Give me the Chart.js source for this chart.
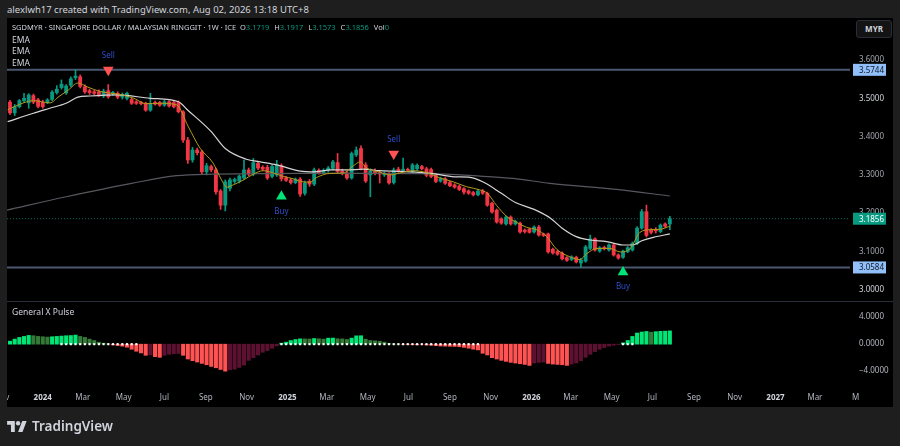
<!DOCTYPE html>
<html lang="en">
<head>
<meta charset="UTF-8">
<title>SGDMYR 1W</title>
<script src="https://cdn.jsdelivr.net/npm/chart.js"></script>
<style>
  * { box-sizing: border-box; }
  body {
    margin: 0; width: 900px; height: 446px; overflow: hidden; position: relative;
    background: #1e1e1e; color: #d1d4dc;
    font-family: "Noto Sans", sans-serif;
  }
  .abs { position: absolute; white-space: nowrap; }
  #header { left: 7px; top: 3px; font-size: 9.5px; line-height: 14px; }
  #frame { left: 7px; top: 18px; width: 886px; height: 389px; background: #000; }
  #mainChart { position: absolute; left: 7px; top: 18px; }
  #sep { left: 7px; top: 301px; width: 886px; height: 1px; background: #2a2e39; }
  #pulseChart { position: absolute; left: 7px; top: 302px; }
  .legend { left: 12px; font-size: 8.5px; line-height: 11px; }
  #sym { font-size: 7.5px; }
  .val { color: #089981; margin-right: 3px; }
  #myr {
    left: 856px; top: 20px; width: 36px; height: 18px;
    border: 1px solid #2a2e39; border-radius: 3px; background: #141414;
    font-size: 8px; font-weight: bold; text-align: center; line-height: 16px;
  }
  #logo { left: 7px; top: 418px; display: flex; align-items: center; gap: 5px;
          font-size: 13.5px; font-weight: 600; color: #d1d4dc; line-height: 16px; }
</style>
</head>
<body>
  <div class="abs" id="header">alexlwh17 created with TradingView.com, Aug 02, 2026 13:18 UTC+8</div>
  <div class="abs" id="frame"></div>
  <canvas id="mainChart" width="886" height="283"></canvas>
  <div class="abs" id="sep"></div>
  <canvas id="pulseChart" width="886" height="105"></canvas>

  <div class="abs legend" id="sym" style="top:22px">SGDMYR · SINGAPORE DOLLAR / MALAYSIAN RINGGIT · 1W · ICE&nbsp; O<span class="val">3.1719</span> H<span class="val">3.1917</span> L<span class="val">3.1573</span> C<span class="val">3.1856</span> Vol<span class="val">0</span></div>
  <div class="abs legend" style="top:33.5px">EMA</div>
  <div class="abs legend" style="top:45px">EMA</div>
  <div class="abs legend" style="top:56.5px">EMA</div>
  <div class="abs legend" style="top:306px">General X Pulse</div>
  <div class="abs" id="myr">MYR</div>

  <div class="abs" id="logo">
    <svg width="20" height="11" viewBox="0 0 36 20">
      <path fill="#d1d4dc" d="M14 20H7V7H0V0h14z M28 20h-8L27.5 0h8z"/>
      <circle fill="#d1d4dc" cx="20" cy="4" r="4"/>
    </svg>
    <span>TradingView</span>
  </div>

<script>
// weekly candles; week 0 = 2024-01-01, first candle is week -7 (Nov 13 2023)
const firstWeek = -7;

const openP = [
  3.490,3.462,3.478,3.494,3.488,3.507,3.496,3.490,3.489,3.497,
  3.515,3.528,3.514,3.534,3.554,3.556,3.530,3.520,3.517,3.517,
  3.506,3.520,3.512,3.513,3.503,3.500,3.497,3.491,3.489,3.487,
  3.469,3.489,3.489,3.482,3.491,3.489,3.489,3.465,3.391,3.339,
  3.365,3.360,3.308,3.322,3.313,3.258,3.221,3.265,3.283,3.284,
  3.292,3.313,3.302,3.330,3.320,3.320,3.296,3.300,3.324,3.292,
  3.287,3.280,3.289,3.252,3.283,3.276,3.312,3.306,3.311,3.317,
  3.332,3.310,3.305,3.292,3.352,3.369,3.326,3.300,3.309,3.306,
  3.300,3.303,3.280,3.315,3.311,3.314,3.308,3.316,3.322,3.316,
  3.314,3.300,3.284,3.290,3.280,3.274,3.270,3.264,3.258,3.254,
  3.248,3.258,3.252,3.226,3.208,3.185,3.172,3.190,3.172,3.174,
  3.156,3.158,3.151,3.164,3.146,3.146,3.106,3.100,3.096,3.084,
  3.079,3.085,3.070,3.075,3.108,3.133,3.101,3.111,3.104,3.117,
  3.091,3.085,3.100,3.104,3.121,3.161,3.204,3.156,3.158,3.152,
  3.172,3.1719
];
const highP = [
  3.495,3.484,3.497,3.513,3.512,3.511,3.500,3.495,3.499,3.520,
  3.533,3.548,3.536,3.556,3.5744,3.561,3.535,3.524,3.521,3.522,
  3.524,3.536,3.518,3.517,3.514,3.516,3.501,3.494,3.492,3.490,
  3.513,3.493,3.492,3.495,3.494,3.492,3.493,3.468,3.398,3.372,
  3.370,3.364,3.330,3.326,3.318,3.262,3.287,3.292,3.292,3.300,
  3.339,3.318,3.343,3.336,3.324,3.325,3.326,3.338,3.329,3.296,
  3.291,3.292,3.293,3.284,3.288,3.318,3.316,3.316,3.322,3.338,
  3.356,3.315,3.310,3.360,3.373,3.376,3.332,3.316,3.316,3.312,
  3.308,3.306,3.318,3.320,3.344,3.318,3.330,3.329,3.325,3.320,
  3.318,3.303,3.294,3.293,3.284,3.277,3.273,3.267,3.261,3.257,
  3.262,3.262,3.255,3.229,3.211,3.188,3.193,3.193,3.182,3.177,
  3.159,3.161,3.167,3.168,3.148,3.148,3.109,3.104,3.099,3.087,
  3.089,3.088,3.082,3.116,3.143,3.136,3.113,3.114,3.120,3.120,
  3.094,3.104,3.113,3.125,3.165,3.210,3.221,3.160,3.162,3.172,
  3.175,3.1917
];
const lowP = [
  3.458,3.455,3.475,3.490,3.474,3.486,3.475,3.474,3.486,3.494,
  3.511,3.524,3.510,3.530,3.549,3.527,3.513,3.510,3.509,3.505,
  3.502,3.500,3.508,3.499,3.498,3.496,3.484,3.484,3.483,3.466,
  3.466,3.482,3.479,3.479,3.477,3.475,3.462,3.385,3.330,3.333,
  3.352,3.303,3.300,3.308,3.250,3.210,3.206,3.258,3.278,3.279,
  3.288,3.298,3.298,3.314,3.311,3.288,3.292,3.296,3.284,3.283,
  3.276,3.277,3.244,3.247,3.270,3.272,3.302,3.303,3.307,3.313,
  3.305,3.300,3.288,3.289,3.348,3.313,3.280,3.243,3.300,3.279,
  3.296,3.276,3.276,3.307,3.308,3.309,3.305,3.312,3.313,3.295,
  3.293,3.280,3.281,3.275,3.269,3.265,3.259,3.250,3.249,3.245,
  3.245,3.249,3.218,3.200,3.174,3.171,3.169,3.169,3.169,3.148,
  3.148,3.148,3.148,3.140,3.139,3.096,3.093,3.090,3.078,3.074,
  3.076,3.070,3.0584,3.072,3.105,3.101,3.098,3.104,3.101,3.088,
  3.080,3.082,3.097,3.101,3.118,3.158,3.138,3.146,3.148,3.149,
  3.163,3.1573
];
const closeP = [
  3.462,3.478,3.494,3.500,3.509,3.490,3.479,3.478,3.496,3.516,
  3.524,3.537,3.532,3.551,3.558,3.531,3.517,3.515,3.513,3.510,
  3.519,3.504,3.515,3.503,3.510,3.513,3.487,3.487,3.486,3.469,
  3.487,3.485,3.482,3.491,3.480,3.478,3.465,3.391,3.339,3.365,
  3.358,3.308,3.324,3.313,3.256,3.221,3.282,3.287,3.288,3.297,
  3.313,3.302,3.332,3.318,3.315,3.292,3.322,3.326,3.290,3.286,
  3.280,3.289,3.250,3.279,3.276,3.313,3.306,3.312,3.318,3.334,
  3.309,3.304,3.292,3.356,3.365,3.317,3.284,3.310,3.305,3.302,
  3.304,3.279,3.313,3.311,3.315,3.312,3.326,3.325,3.316,3.299,
  3.296,3.283,3.290,3.278,3.272,3.268,3.262,3.255,3.252,3.248,
  3.258,3.252,3.221,3.203,3.177,3.174,3.190,3.172,3.179,3.151,
  3.152,3.150,3.164,3.143,3.142,3.099,3.096,3.093,3.081,3.077,
  3.086,3.073,3.078,3.112,3.133,3.104,3.110,3.107,3.117,3.091,
  3.083,3.101,3.110,3.121,3.161,3.204,3.142,3.150,3.154,3.169,
  3.166,3.1856
];

// General X Pulse histogram, one value per candle
const pulse = [
  0.45,0.75,1.0,1.15,1.3,1.25,1.15,1.1,1.05,1.1,
  1.15,1.2,1.25,1.28,1.35,1.15,1.0,0.75,0.55,0.3,
  0.15,0.05,-0.1,-0.2,-0.3,-0.45,-0.75,-1.05,-1.3,-1.65,
  -1.6,-1.85,-1.95,-1.65,-1.5,-1.42,-1.38,-1.65,-2.2,-2.45,
  -2.65,-2.85,-3.05,-3.3,-3.5,-3.75,-4.0,-3.8,-3.7,-3.45,
  -3.1,-2.4,-2.0,-1.6,-1.2,-0.95,-0.6,-0.25,0.15,0.3,
  0.54,0.69,0.79,0.78,0.77,0.84,0.8,0.75,0.89,0.9,
  0.8,0.78,0.69,0.89,1.23,1.25,0.74,0.54,0.49,0.44,
  0.3,0.1,0.03,0.02,-0.02,-0.03,-0.05,-0.1,-0.06,-0.12,
  -0.16,-0.22,-0.28,-0.3,-0.32,-0.34,-0.38,-0.48,-0.6,-0.75,
  -0.85,-1.35,-1.6,-2.0,-2.2,-2.4,-2.55,-2.7,-2.8,-2.9,
  -3.0,-3.15,-2.8,-2.7,-2.65,-2.85,-2.95,-3.0,-3.05,-3.15,
  -2.95,-2.8,-2.45,-1.95,-1.5,-1.1,-0.75,-0.5,-0.28,-0.15,
  -0.05,0.2,0.55,1.15,1.65,1.8,1.88,1.78,1.85,1.9,
  1.93,1.97
];
// weeks with white squeeze dots on the zero line
const dotFrom = [4, 51, 124];
const dotTo = [20, 93, 126];

// EMA lines (week, price)
const goldW = [-7.5,-5,-2,1.5,3.5,5.5,7.5,9.5,12.2,16.5,19.5,22,25,28.6,31.1,33.6,36.4,38.2,39.3,40.7,
  42.9,45,47.1,49.3,51.4,53.5,55,57.1,58.5,61.4,64.2,66.4,67.8,69.2,72.1,74.2,76.3,79.2,82,84.9,
  87.7,90.6,93.4,95,97,99.1,101.3,103.4,105.5,107.7,109.8,112.7,114.8,116.2,118.4,121.2,123.4,125.5,127.6,129.8,
  131.9,134];
const goldP = [3.470,3.484,3.494,3.488,3.505,3.522,3.540,3.530,3.518,3.510,3.500,3.486,3.487,3.483,3.426,3.370,3.331,3.287,3.268,3.274,
  3.287,3.302,3.311,3.305,3.296,3.290,3.283,3.281,3.293,3.304,3.305,3.324,3.334,3.318,3.307,3.300,3.305,3.311,3.306,3.292,
  3.282,3.269,3.261,3.252,3.220,3.192,3.176,3.163,3.157,3.139,3.106,3.086,3.079,3.094,3.108,3.108,3.099,3.107,3.150,3.157,
  3.158,3.166];
const whiteW = [-7.5,-2,1.5,5,7.5,10,16,23,29,31,36,39,43.5,46.5,50,55,58,61.5,65,68.5,
  72,79,83,88,91,94,98,101,105,108.5,111,114,117,120.5,124,126,128,130.5,134];
const whiteP = [3.439,3.461,3.474,3.487,3.503,3.506,3.509,3.500,3.491,3.469,3.413,3.369,3.341,3.334,3.326,3.310,3.308,3.313,3.313,3.315,
  3.311,3.308,3.304,3.295,3.294,3.282,3.252,3.228,3.210,3.187,3.161,3.139,3.130,3.126,3.117,3.117,3.128,3.137,3.146];
const grayW = [-7.7,5,19,28.6,36.4,44.3,55,72,86,93.4,100.5,108.4,122.6,134];
const grayP = [3.208,3.243,3.278,3.298,3.302,3.303,3.304,3.304,3.302,3.297,3.291,3.278,3.262,3.245];

const levelLines = [3.5744, 3.0584];
const lastClose = 3.1856;
const sellW = [14, 75];
const sellP = [3.574, 3.355];
const buyW = [51, 124];
const buyP = [3.244, 3.046];

const priceTicks = [3.0, 3.1, 3.2, 3.3, 3.4, 3.5, 3.6];
const pulseTicks = [4, 0, -4];
const tickDates = ['2023-11-01','2024-01-01','2024-03-01','2024-05-01','2024-07-01','2024-09-01','2024-11-01',
  '2025-01-01','2025-03-01','2025-05-01','2025-07-01','2025-09-01','2025-11-01',
  '2026-01-01','2026-03-01','2026-05-01','2026-07-01','2026-09-01','2026-11-01',
  '2027-01-01','2027-03-01','2027-05-01'];
const tickLabels = ['Nov','2024','Mar','May','Jul','Sep','Nov','2025','Mar','May','Jul','Sep','Nov',
  '2026','Mar','May','Jul','Sep','Nov','2027','Mar','M'];

// ---- setup ----
Chart.defaults.font.family = '"Noto Sans", sans-serif';
Chart.defaults.font.size = 8;
Chart.defaults.color = '#b2b5be';

const X_MIN = -7.64, X_MAX = 172.5;
const UP = '#089981', DOWN = '#f23645';
const wk = i => firstWeek + i;
const weekOf = d => (Date.parse(d) - Date.parse('2024-01-01')) / (7 * 864e5);
const pts = (ws, ps) => ws.map((w, i) => ({x: w, y: ps[i]}));

const candleColor = closeP.map((c, i) => c >= openP[i] ? UP : DOWN);
const bodies = openP.map((o, i) => ({x: wk(i), y: [o, closeP[i]]}));
const wicks = lowP.map((l, i) => ({x: wk(i), y: [l, highP[i]]}));

const pulseColors = pulse.map((v, i) => {
  const prev = i ? pulse[i - 1] : v;
  if (v >= 0) return v >= prev ? '#00e676' : '#357a38';
  return v <= prev ? '#ff5252' : '#5d1130';
});
const dots = [];
dotFrom.forEach((a, k) => { for (let w = a; w <= dotTo[k]; w++) dots.push({x: w, y: 0}); });

function fixAxis(w, h) {
  return s => {
    if (w) s.width = w;
    if (h) s.height = h;
    s.paddingLeft = s.paddingRight = s.paddingTop = s.paddingBottom = 0;
  };
}

const flatLine = (v, color, extra) => Object.assign({
  type: 'line', data: [{x: X_MIN, y: v}, {x: X_MAX, y: v}],
  borderColor: color, pointRadius: 0
}, extra);

// Sell / Buy captions and price tags on the axis
const overlay = {
  id: 'overlay',
  afterDraw(chart) {
    const {ctx, chartArea, scales: {x, y}} = chart;
    ctx.save();
    ctx.font = '8px "Noto Sans", sans-serif';
    ctx.textAlign = 'center';
    ctx.textBaseline = 'middle';
    ctx.fillStyle = '#2e4fc9';
    sellW.forEach((w, i) => ctx.fillText('Sell', x.getPixelForValue(w), y.getPixelForValue(sellP[i]) - 14.5));
    buyW.forEach((w, i) => ctx.fillText('Buy', x.getPixelForValue(w), y.getPixelForValue(buyP[i]) + 15));

    const tags = [[levelLines[0], '#90bff9', '#131722'], [lastClose, UP, '#ffffff'], [levelLines[1], '#90bff9', '#131722']];
    ctx.textAlign = 'left';
    tags.forEach(([v, bg, fg]) => {
      const py = y.getPixelForValue(v);
      ctx.fillStyle = bg;
      ctx.fillRect(chartArea.right + 3, py - 6, 33, 12);
      ctx.fillStyle = fg;
      ctx.fillText(v.toFixed(4), chartArea.right + 9, py + 0.5);
    });
    ctx.restore();
  }
};

const common = {
  responsive: false,
  animation: false,
  events: [],
  layout: {padding: 0, autoPadding: false},
  plugins: {legend: {display: false}, tooltip: {enabled: false}}
};

new Chart(document.getElementById('mainChart'), {
  type: 'bar',
  data: {
    datasets: [
      {type: 'scatter', data: pts(sellW, sellP), pointStyle: 'triangle', rotation: 180,
       pointRadius: 6.2, backgroundColor: '#ff5252', borderWidth: 0, order: 0},
      {type: 'scatter', data: pts(buyW, buyP), pointStyle: 'triangle',
       pointRadius: 6.2, backgroundColor: '#00e676', borderWidth: 0, order: 0},
      {type: 'line', data: pts(goldW, goldP), borderColor: '#b39b1c', borderWidth: 1,
       pointRadius: 0, cubicInterpolationMode: 'monotone', order: 1},
      {type: 'line', data: pts(whiteW, whiteP), borderColor: '#d6d6d6', borderWidth: 1.2,
       pointRadius: 0, cubicInterpolationMode: 'monotone', order: 2},
      {type: 'line', data: pts(grayW, grayP), borderColor: '#56585e', borderWidth: 1.2,
       pointRadius: 0, cubicInterpolationMode: 'monotone', order: 3},
      {data: bodies, backgroundColor: candleColor, barThickness: 3.2, grouped: false, minBarLength: 1, order: 4},
      {data: wicks, backgroundColor: candleColor, barThickness: 1, grouped: false, order: 5},
      flatLine(levelLines[0], '#4a5870', {borderWidth: 2, order: 6}),
      flatLine(levelLines[1], '#4a5870', {borderWidth: 2, order: 6}),
      flatLine(lastClose, 'rgba(8,153,129,0.7)', {borderWidth: 1, borderDash: [1, 2], order: 7})
    ]
  },
  options: Object.assign({}, common, {
    scales: {
      x: {type: 'linear', min: X_MIN, max: X_MAX, offset: false, display: false},
      y: {
        position: 'right', min: 2.9708, max: 3.7097,
        afterFit: fixAxis(43),
        afterBuildTicks: a => { a.ticks = priceTicks.map(v => ({value: v})); },
        grid: {display: false, drawTicks: false}, border: {display: false},
        ticks: {padding: 9, crossAlign: 'near', callback: v => v.toFixed(4),
                color: c => (c.tick && (c.tick.value === 3.5 || c.tick.value === 3.0)) ? '#d1d4dc' : '#a3a6af'}
      }
    }
  }),
  plugins: [overlay]
});

new Chart(document.getElementById('pulseChart'), {
  type: 'bar',
  data: {
    datasets: [
      {type: 'scatter', data: dots, pointStyle: 'rect', pointRadius: 1.5,
       backgroundColor: '#ffffff', borderWidth: 0, order: 0},
      {data: pulse.map((v, i) => ({x: wk(i), y: v})), backgroundColor: pulseColors,
       barThickness: 3.4, order: 1}
    ]
  },
  options: Object.assign({}, common, {
    scales: {
      x: {
        type: 'linear', min: X_MIN, max: X_MAX, offset: false,
        afterFit: fixAxis(0, 22),
        afterBuildTicks: a => { a.ticks = tickDates.map(d => ({value: weekOf(d)})); },
        grid: {display: false, drawTicks: false}, border: {display: false},
        ticks: {
          autoSkip: false, maxRotation: 0, padding: 8,
          callback: (v, i) => tickLabels[i],
          color: c => /^\d{4}$/.test(tickLabels[c.index]) ? '#d1d4dc' : '#b2b5be',
          font: c => ({size: 8, weight: /^\d{4}$/.test(tickLabels[c.index]) ? 'bold' : 'normal'})
        }
      },
      y: {
        position: 'right', min: -6.05, max: 6.25,
        afterFit: fixAxis(43),
        afterBuildTicks: a => { a.ticks = pulseTicks.map(v => ({value: v})); },
        grid: {display: false, drawTicks: false}, border: {display: false},
        ticks: {padding: 9, crossAlign: 'near',
                callback: v => (v < 0 ? '\u2212' : '') + Math.abs(v).toFixed(4)}
      }
    }
  })
});
</script>
</body>
</html>
